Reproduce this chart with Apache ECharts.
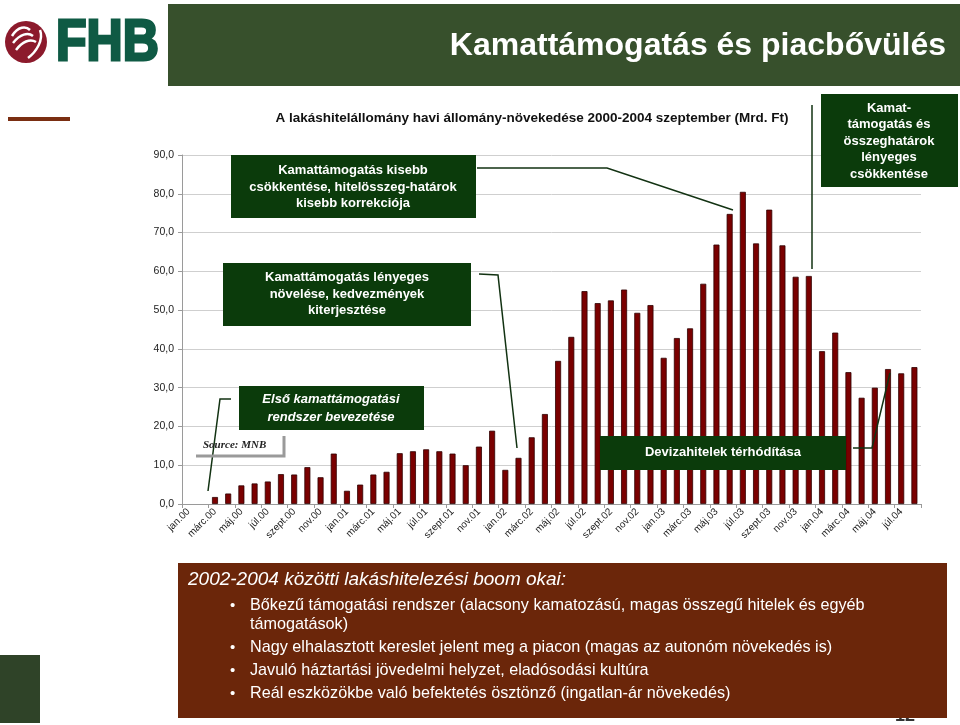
<!DOCTYPE html>
<html>
<head>
<meta charset="utf-8">
<script src="https://cdn.jsdelivr.net/npm/echarts@6/dist/echarts.min.js"></script>
<style>
html,body{margin:0;padding:0;background:#fff;}
#c{width:960px;height:725px;}
</style>
</head>
<body>
<div id="c"></div>
<script>
// ---- data ----
var categories = [
 'jan.00','febr.00','márc.00','ápr.00','máj.00','jún.00','júl.00','aug.00','szept.00','okt.00','nov.00','dec.00',
 'jan.01','febr.01','márc.01','ápr.01','máj.01','jún.01','júl.01','aug.01','szept.01','okt.01','nov.01','dec.01',
 'jan.02','febr.02','márc.02','ápr.02','máj.02','jún.02','júl.02','aug.02','szept.02','okt.02','nov.02','dec.02',
 'jan.03','febr.03','márc.03','ápr.03','máj.03','jún.03','júl.03','aug.03','szept.03','okt.03','nov.03','dec.03',
 'jan.04','febr.04','márc.04','ápr.04','máj.04','jún.04','júl.04','aug.04'
];
var growth = [
 null, null, 1.8, 2.7, 4.8, 5.3, 5.8, 7.7, 7.6, 9.5, 6.9, 13.0,
 3.4, 5.0, 7.6, 8.3, 13.1, 13.6, 14.1, 13.6, 13.0, 10.0, 14.8, 18.9,
 8.8, 11.9, 17.2, 23.2, 36.9, 43.1, 54.9, 51.8, 52.5, 55.3, 49.3, 51.3,
 37.7, 42.8, 45.3, 56.8, 66.9, 74.8, 80.5, 67.2, 75.9, 66.7, 58.6, 58.8,
 39.4, 44.2, 34.0, 27.4, 30.0, 34.8, 33.7, 35.3
];
var yTicks = {min: 0, max: 90, interval: 10};
var pageTitle = 'Kamattámogatás és piacbővülés';
var chartTitle = 'A lakáshitelállomány havi állomány-növekedése 2000-2004 szeptember (Mrd. Ft)';
var boxHeading = '2002-2004 közötti lakáshitelezési boom okai:';
var bulletLines = [
 ['Bőkezű támogatási rendszer (alacsony kamatozású, magas összegű hitelek és egyéb', 'támogatások)'],
 ['Nagy elhalasztott kereslet jelent meg a piacon (magas az autonóm növekedés is)'],
 ['Javuló háztartási jövedelmi helyzet, eladósodási kultúra'],
 ['Reál eszközökbe való befektetés ösztönző (ingatlan-ár növekedés)']
];

// ---- styling ----
var FONT = 'Arial, "Liberation Sans", sans-serif';
var BOX = '#0b3b0b';
var LINE = '#123212';

var graphics = [];
function rect(x, y, w, h, fill, z) {
  graphics.push({type: 'rect', shape: {x: x, y: y, width: w, height: h}, style: {fill: fill}, z: z || 100, silent: true});
}
function text(x, y, t, font, fill, align, z, lh) {
  graphics.push({type: 'text', x: x, y: y, z: z || 101, silent: true,
    style: {text: t, font: font, fill: fill, textAlign: align || 'left', textVerticalAlign: 'middle', lineHeight: lh || 16}});
}
function line(pts, z) {
  graphics.push({type: 'polyline', shape: {points: pts}, style: {stroke: LINE, lineWidth: 1.5, fill: null}, z: z || 100, silent: true});
}

// header bar
rect(168, 4, 792, 82, '#37502c', 50);
text(946, 46, pageTitle, 'bold 32px ' + FONT, '#ffffff', 'right', 51);

// logo
graphics.push({type: 'circle', shape: {cx: 26, cy: 42, r: 21}, style: {fill: '#8c1a2c'}, z: 50, silent: true});
graphics.push({type: 'bezierCurve', shape: {x1: 12, y1: 36, x2: 30, y2: 30, cpx1: 18, cpy1: 26, cpx2: 26, cpy2: 26}, style: {stroke: '#fff', lineWidth: 2.5, fill: null}, z: 51, silent: true});
graphics.push({type: 'bezierCurve', shape: {x1: 13, y1: 43, x2: 33, y2: 36, cpx1: 20, cpy1: 34, cpx2: 28, cpy2: 32}, style: {stroke: '#fff', lineWidth: 2.5, fill: null}, z: 51, silent: true});
graphics.push({type: 'bezierCurve', shape: {x1: 16, y1: 50, x2: 36, y2: 42, cpx1: 22, cpy1: 42, cpx2: 30, cpy2: 38}, style: {stroke: '#fff', lineWidth: 2.5, fill: null}, z: 51, silent: true});
graphics.push({type: 'bezierCurve', shape: {x1: 28, y1: 58, x2: 40, y2: 30, cpx1: 36, cpy1: 52, cpx2: 44, cpy2: 40}, style: {stroke: '#fff', lineWidth: 2.5, fill: null}, z: 51, silent: true});
graphics.push({type: 'text', x: 56, y: 44, z: 51, silent: true, scaleY: 1.15,
  style: {text: 'FHB', font: 'bold 50px ' + FONT, fill: '#0f5a44', stroke: '#0f5a44', lineWidth: 2.5, textAlign: 'left', textVerticalAlign: 'middle'}});

// left decoration
rect(8, 117, 62, 4, '#7a2e12', 20);
rect(0, 655, 40, 68, '#2f4328', 20);

// chart title
text(532, 118, chartTitle, 'bold 13.5px ' + FONT, '#111111', 'center', 60);

// annotation boxes
var AF = 'bold 13px ' + FONT;
rect(231, 155, 245, 63, BOX);
text(353, 187, 'Kamattámogatás kisebb\ncsökkentése, hitelösszeg-határok\nkisebb korrekciója', AF, '#fff', 'center', 101, 16.5);
line([[477, 168], [607, 168], [733, 210]]);

rect(223, 263, 248, 63, BOX);
text(347, 294, 'Kamattámogatás lényeges\nnövelése, kedvezmények\nkiterjesztése', AF, '#fff', 'center', 101, 16.5);
line([[479, 274], [498, 275], [517, 448]]);

rect(821, 94, 137, 93, BOX);
text(889, 141, 'Kamat-\ntámogatás és\nösszeghatárok\nlényeges\ncsökkentése', AF, '#fff', 'center', 101, 16.5);
line([[812, 105], [812, 269]]);

rect(239, 386, 185, 44, BOX);
text(331, 408, 'Első kamattámogatási\nrendszer bevezetése', 'italic bold 13px ' + FONT, '#fff', 'center', 101, 18);
line([[231, 399], [220, 399], [208, 491]]);

rect(600, 436, 246, 34, BOX);
text(723, 452, 'Devizahitelek térhódítása', AF, '#fff', 'center', 101);
line([[853, 448], [872, 448], [890, 373]]);

// source box
graphics.push({type: 'polyline', shape: {points: [[196, 456], [284, 456], [284, 436]]}, style: {stroke: '#9a9a9a', lineWidth: 3, fill: null}, z: 100, silent: true});
text(203, 445, 'Source: MNB', 'italic bold 11px "Liberation Serif", "DejaVu Serif", serif', '#222', 'left', 101);

// bottom text box
text(895, 716, '12', 'bold 18px ' + FONT, '#333333', 'left', 80);
rect(178, 563, 769, 155, '#6b260a', 90);
text(188, 580, boxHeading, 'italic 19px ' + FONT, '#ffffff', 'left', 101);
var by = [606, 648, 671, 694];
for (var i = 0; i < bulletLines.length; i++) {
  text(230, by[i], '•', '15px ' + FONT, '#fff', 'left', 101);
  text(250, by[i] + (bulletLines[i].length > 1 ? 9.5 : 0), bulletLines[i].join('\n'), '16.2px ' + FONT, '#fff', 'left', 101, 19);
}

var chart = echarts.init(document.getElementById('c'), null, {renderer: 'canvas'});
chart.setOption({
  backgroundColor: '#ffffff',
  animation: false,
  grid: {left: 182, right: 39, top: 155, bottom: 221, containLabel: false},
  xAxis: {
    type: 'category',
    data: categories,
    boundaryGap: true,
    axisLine: {lineStyle: {color: '#9a9a9a', width: 1}},
    axisTick: {show: true, interval: 1, length: 4, lineStyle: {color: '#9a9a9a'}},
    axisLabel: {interval: 1, rotate: 45, fontSize: 10, fontFamily: FONT, color: '#222', margin: 6}
  },
  yAxis: {
    type: 'value',
    min: yTicks.min, max: yTicks.max, interval: yTicks.interval,
    axisLine: {show: true, lineStyle: {color: '#9a9a9a'}},
    axisTick: {show: true, length: 4, lineStyle: {color: '#9a9a9a'}},
    splitLine: {lineStyle: {color: '#cfcfcf', width: 1}},
    axisLabel: {fontSize: 10.5, fontFamily: FONT, color: '#222', margin: 8,
      formatter: function (v) { return v.toFixed(1).replace('.', ','); }}
  },
  series: [{
    type: 'bar',
    data: growth,
    barWidth: 6,
    itemStyle: {color: '#7a0000', borderColor: '#2e0000', borderWidth: 0.8}
  }],
  graphic: {elements: graphics}
});
</script>
</body>
</html>
